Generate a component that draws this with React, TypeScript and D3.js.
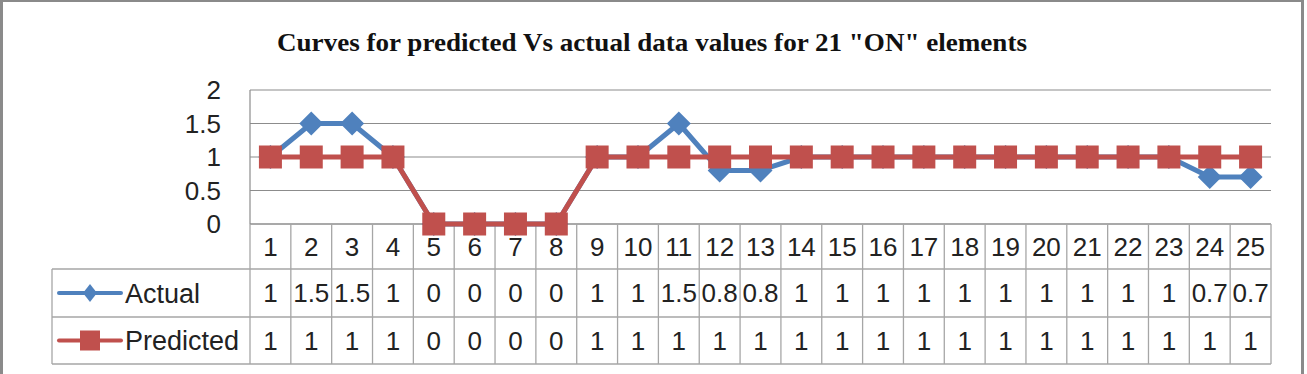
import React, { useRef, useEffect } from "react";
import * as d3 from "d3";

// chart data
const categories = [
  "1", "2", "3", "4", "5", "6", "7", "8", "9", "10", "11", "12", "13",
  "14", "15", "16", "17", "18", "19", "20", "21", "22", "23", "24", "25",
];
const actual = [1, 1.5, 1.5, 1, 0, 0, 0, 0, 1, 1, 1.5, 0.8, 0.8, 1, 1, 1, 1, 1, 1, 1, 1, 1, 1, 0.7, 0.7];
const predicted = [1, 1, 1, 1, 0, 0, 0, 0, 1, 1, 1, 1, 1, 1, 1, 1, 1, 1, 1, 1, 1, 1, 1, 1, 1];
const yTicks = [0, 0.5, 1, 1.5, 2];
const title = 'Curves for predicted Vs actual data values for 21 "ON" elements';

const W = 1307;
const H = 374;
const BLUE = "#4F81BD";
const RED = "#C0504D";
const GRID = "#8c8c8c";
const TABLE = "#a6a6a6";
const FONT = "'Liberation Sans', Arial, sans-serif";

export default function App() {
  const ref = useRef<SVGSVGElement | null>(null);

  useEffect(() => {
    if (!ref.current) return;
    const svg = d3.select(ref.current);
    svg.selectAll("*").remove();

    const left = 250;
    const right = 1271;
    const tableLeft = 52;
    const rowTop = [224, 269, 317, 364];

    const x = d3.scaleBand<string>().domain(categories).range([left, right]);
    const y = d3.scaleLinear().domain([0, 2]).range([224, 90]);
    const cx = (c: string) => (x(c) ?? 0) + x.bandwidth() / 2;

    // outer frame
    svg.append("rect").attr("x", 1.5).attr("y", 0.5).attr("width", 1301).attr("height", 380)
      .attr("fill", "#fff").attr("stroke", "#8a8a8a").attr("stroke-width", 3);

    // title
    svg.append("text").attr("x", 652).attr("y", 51).attr("text-anchor", "middle")
      .attr("font-family", "'Liberation Serif', 'Times New Roman', serif")
      .attr("font-weight", "bold").attr("font-size", 25)
      .attr("textLength", 750).attr("lengthAdjust", "spacingAndGlyphs")
      .attr("fill", "#111").text(title);

    // horizontal gridlines
    svg.append("g").selectAll("line").data(yTicks.filter((t) => t > 0)).enter().append("line")
      .attr("x1", left).attr("x2", right).attr("y1", (d) => y(d)).attr("y2", (d) => y(d))
      .attr("stroke", GRID).attr("stroke-width", 1.2);
    svg.append("line").attr("x1", left).attr("x2", left).attr("y1", y(2)).attr("y2", y(0))
      .attr("stroke", GRID).attr("stroke-width", 1.2);

    // y tick labels
    svg.append("g").selectAll("text").data(yTicks).enter().append("text")
      .attr("x", 221).attr("y", (d) => y(d)).attr("dy", "0.36em").attr("text-anchor", "end")
      .attr("font-family", FONT).attr("font-size", 26).attr("fill", "#222")
      .text((d) => String(d));

    // data table grid
    const tg = svg.append("g").attr("stroke", TABLE).attr("stroke-width", 1.3).attr("fill", "none");
    tg.append("line").attr("x1", left).attr("x2", right).attr("y1", rowTop[0]).attr("y2", rowTop[0]).attr("stroke", GRID);
    [rowTop[1], rowTop[2], rowTop[3]].forEach((ry) => {
      tg.append("line").attr("x1", tableLeft).attr("x2", right).attr("y1", ry).attr("y2", ry);
    });
    tg.append("line").attr("x1", tableLeft).attr("x2", tableLeft).attr("y1", rowTop[1]).attr("y2", rowTop[3]);
    const edges = categories.map((c) => x(c) ?? 0).concat([right]);
    tg.selectAll("line.v").data(edges).enter().append("line").attr("class", "v")
      .attr("x1", (d) => d).attr("x2", (d) => d).attr("y1", rowTop[0]).attr("y2", rowTop[3]);

    const cellText = (vals: (string | number)[], row: number) => {
      svg.append("g").selectAll("text").data(vals).enter().append("text")
        .attr("x", (_d, i) => cx(categories[i]))
        .attr("y", (rowTop[row] + rowTop[row + 1]) / 2).attr("dy", "0.36em")
        .attr("text-anchor", "middle").attr("font-family", FONT).attr("font-size", 26)
        .attr("fill", "#222").text((d) => String(d));
    };
    cellText(categories, 0);
    cellText(actual, 1);
    cellText(predicted, 2);

    // legend keys inside table
    const legend = [
      { name: "Actual", color: BLUE, shape: "diamond", row: 1 },
      { name: "Predicted", color: RED, shape: "square", row: 2 },
    ];
    legend.forEach((l) => {
      const ly = (rowTop[l.row] + rowTop[l.row + 1]) / 2;
      svg.append("line").attr("x1", 59).attr("x2", 121).attr("y1", ly).attr("y2", ly)
        .attr("stroke", l.color).attr("stroke-width", 4).attr("stroke-linecap", "round");
      if (l.shape === "diamond") {
        svg.append("path").attr("d", `M90,${ly - 9} L97,${ly} L90,${ly + 9} L83,${ly} Z`).attr("fill", l.color);
      } else {
        svg.append("rect").attr("x", 80).attr("y", ly - 10).attr("width", 20).attr("height", 20).attr("fill", l.color);
      }
      svg.append("text").attr("x", 125).attr("y", ly).attr("dy", "0.36em")
        .attr("font-family", FONT).attr("font-size", 27).attr("fill", "#222").text(l.name);
    });

    // series lines
    const line = d3.line<number>().x((_d, i) => cx(categories[i])).y((d) => y(d));
    svg.append("path").datum(actual).attr("d", line).attr("fill", "none")
      .attr("stroke", BLUE).attr("stroke-width", 5).attr("stroke-linejoin", "round");
    svg.append("g").selectAll("path").data(actual).enter().append("path")
      .attr("transform", (d, i) => `translate(${cx(categories[i])},${y(d)})`)
      .attr("d", "M0,-12 L12,0 L0,12 L-12,0 Z").attr("fill", BLUE);

    svg.append("path").datum(predicted).attr("d", line).attr("fill", "none")
      .attr("stroke", RED).attr("stroke-width", 5).attr("stroke-linejoin", "round");
    svg.append("g").selectAll("rect").data(predicted).enter().append("rect")
      .attr("x", (_d, i) => cx(categories[i]) - 11.5).attr("y", (d) => y(d) - 11.5)
      .attr("width", 23).attr("height", 23).attr("fill", RED);
  }, []);

  return (
    <svg ref={ref} width={W} height={H} style={{ position: "absolute", left: 0, top: 0, background: "#fff" }} />
  );
}
